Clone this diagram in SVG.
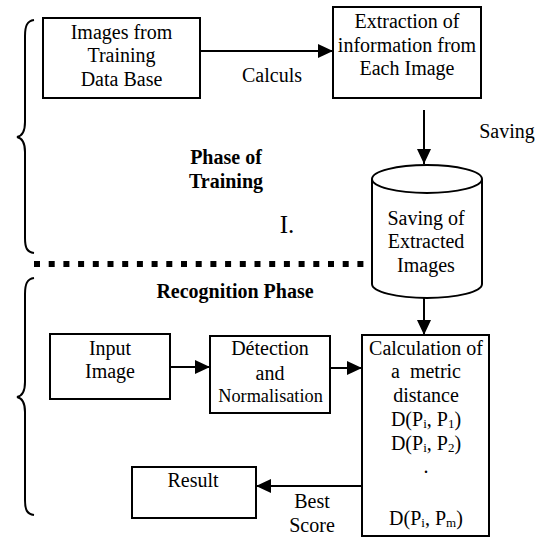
<svg xmlns="http://www.w3.org/2000/svg" width="541" height="537" viewBox="0 0 541 537">
<style>
.box{fill:#fff;stroke:#000;stroke-width:2}
.t{font-family:'Liberation Serif','Times New Roman','DejaVu Serif',serif;font-size:20px;fill:#000;text-anchor:middle}
.b{font-weight:bold}
.c{fill:none;stroke:#000;stroke-width:2}
.br{fill:none;stroke:#000;stroke-width:2}
</style>
<defs>
<marker id="ah" markerUnits="userSpaceOnUse" markerWidth="16" markerHeight="14" refX="15" refY="7" orient="auto">
<path d="M0,0 L15,7 L0,14 Z" fill="#000"/>
</marker>
</defs>
<rect width="541" height="537" fill="#fff"/>
<g id="braces">
<path class="br" d="M34,20 C27,21 25,26 25,36 L25,122 C25,132 22,136 17,137 C22,138 25,142 25,152 L25,238 C25,248 27,252 34,253"/>
<path class="br" d="M34,278 C27,279 25,284 25,294 L25,382 C25,392 22,396 17,397 C22,398 25,402 25,412 L25,500 C25,510 27,514 34,515"/>
</g>
<g id="separator">
<line x1="34" y1="264" x2="372" y2="264" stroke="#000" stroke-width="6" stroke-dasharray="6 8.7"/>
</g>
<g id="n1">
<rect class="box" x="43" y="18" width="157" height="80"/>
<text class="t" x="121.5" y="39">Images from</text>
<text class="t" x="121.5" y="62">Training</text>
<text class="t" x="121.5" y="86">Data Base</text>
</g>
<g id="n2">
<rect class="box" x="333" y="7" width="148" height="91"/>
<text class="t" x="407" y="28">Extraction of</text>
<text class="t" x="407" y="52">information from</text>
<text class="t" x="407" y="75">Each Image</text>
</g>
<g id="n3">
<path class="box" d="M372,179 L372,284 A55,14 0 0 0 482,284 L482,179"/>
<ellipse class="box" cx="427" cy="179" rx="55" ry="14"/>
<text class="t" x="426" y="225">Saving of</text>
<text class="t" x="426" y="248">Extracted</text>
<text class="t" x="426" y="272">Images</text>
</g>
<g id="n4">
<rect class="box" x="50" y="334" width="120" height="65"/>
<text class="t" x="110" y="355">Input</text>
<text class="t" x="110" y="378">Image</text>
</g>
<g id="n5">
<rect class="box" x="210" y="336" width="120" height="77"/>
<text class="t" x="270" y="355">Détection</text>
<text class="t" x="270" y="380">and</text>
<text class="t" x="270.5" y="402" style="font-size:18.3px">Normalisation</text>
</g>
<g id="n6">
<rect class="box" x="362" y="335" width="127" height="201"/>
<text class="t" x="426" y="355">Calculation of</text>
<text class="t" x="426" y="378" xml:space="preserve">a  metric</text>
<text class="t" x="426" y="402">distance</text>
<text class="t" x="426" y="426">D(P<tspan font-size="13" dy="2">i</tspan><tspan dy="-2">, P</tspan><tspan font-size="13" dy="2">1</tspan><tspan dy="-2">)</tspan></text>
<text class="t" x="426" y="450">D(P<tspan font-size="13" dy="2">i</tspan><tspan dy="-2">, P</tspan><tspan font-size="13" dy="2">2</tspan><tspan dy="-2">)</tspan></text>
<text class="t" x="426" y="473">.</text>
<text class="t" x="426" y="525">D(P<tspan font-size="13" dy="2">i</tspan><tspan dy="-2">, P</tspan><tspan font-size="13" dy="2">m</tspan><tspan dy="-2">)</tspan></text>
</g>
<g id="n7">
<rect class="box" x="132" y="467" width="124" height="51"/>
<text class="t" x="193" y="487">Result</text>
</g>
<g id="labels">
<text class="t" x="272" y="82">Calculs</text>
<text class="t" x="507" y="138">Saving</text>
<text class="t b" x="226" y="164">Phase of</text>
<text class="t b" x="226" y="188">Training</text>
<text class="t" x="287" y="233" style="font-size:25px">I.</text>
<text class="t b" x="235" y="298">Recognition Phase</text>
<text class="t" x="312" y="508">Best</text>
<text class="t" x="312" y="532">Score</text>
</g>
<g id="connectors">
<line class="c" x1="200" y1="51" x2="333" y2="51" marker-end="url(#ah)"/>
<line class="c" x1="424" y1="110" x2="424" y2="164" marker-end="url(#ah)"/>
<line class="c" x1="424" y1="298" x2="424" y2="335" marker-end="url(#ah)"/>
<line class="c" x1="170" y1="367" x2="210" y2="367" marker-end="url(#ah)"/>
<line class="c" x1="330" y1="368" x2="362" y2="368" marker-end="url(#ah)"/>
<line class="c" x1="362" y1="486" x2="256" y2="486" marker-end="url(#ah)"/>
</g>
</svg>
